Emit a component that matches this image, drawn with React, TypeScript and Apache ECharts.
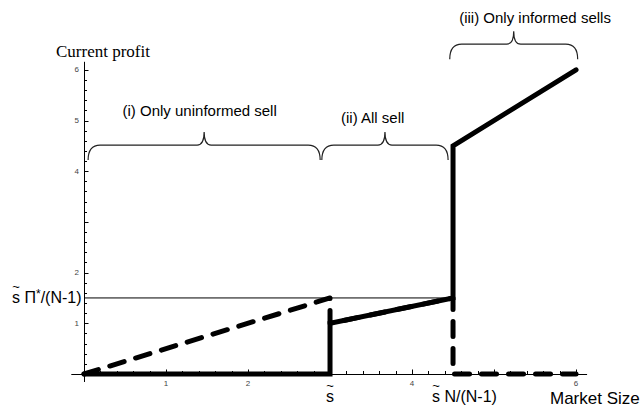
import React, { useEffect, useRef } from "react";
import * as echarts from "echarts";

// ---- data (market size on x, current profit on y) ----
const informedX = [0, 3, 3, 4.5, 4.5, 6];
const informedY = [0, 0, 1, 1.5, 4.5, 6];
const uninformedX = [0, 3, 3, 4.5, 4.5, 6];
const uninformedY = [0, 1.5, 1, 1.5, 0, 0];
const thresholdX = [0, 4.5];
const thresholdY = [1.5, 1.5];

// ---- axis ticks / labels ----
const xTickLabels = [1, 2, 4, 6];
const yTickLabels = [1, 2, 4, 5, 6];
const majorTicks = [1, 2, 3, 4, 5, 6];
const minorTicks = [
  0.2, 0.4, 0.6, 0.8, 1.2, 1.4, 1.6, 1.8, 2.2, 2.4, 2.6, 2.8,
  3.2, 3.4, 3.6, 3.8, 4.2, 4.4, 4.6, 4.8, 5.2, 5.4, 5.6, 5.8,
];

// ---- braces marking the three regions ----
const braceStart = [0.05, 2.9, 4.46];
const braceEnd = [2.88, 4.44, 6.02];
const braceBase = [4.22, 4.22, 6.21];
const braceLabels = ["(i) Only uninformed sell", "(ii) All sell", "(iii) Only informed sells"];
const braceLabelX = [1.41, 3.52, 5.5];
const braceLabelY = [5.19, 5.05, 7.04];

// ---- special axis marks ----
const sTildeX = 3;
const sTildeNX = 4.5;
const sTildePiY = 1.5;

const SANS = "'Liberation Sans', Arial, sans-serif";
const SERIF = "'Liberation Serif', 'Times New Roman', serif";

const zip = (xs: number[], ys: number[]) => xs.map((x, i) => [x, ys[i]]);

export default function App() {
  const ref = useRef<HTMLDivElement>(null);
  useEffect(() => {
    document.body.style.margin = "0";
    if (!ref.current) return;
    const chart = echarts.init(ref.current, undefined, { renderer: "svg" });

    // tick records: [x, y, major (1/0), axis (0 = x, 1 = y), labelled (1/0)]
    const tickData: number[][] = [];
    majorTicks.forEach((v) => tickData.push([v, 0, 1, 0, xTickLabels.indexOf(v) >= 0 ? 1 : 0]));
    minorTicks.forEach((v) => tickData.push([v, 0, 0, 0, 0]));
    majorTicks.forEach((v) => tickData.push([0, v, 1, 1, yTickLabels.indexOf(v) >= 0 ? 1 : 0]));
    minorTicks.forEach((v) => tickData.push([0, v, 0, 1, 0]));

    const option: any = {
      animation: false,
      backgroundColor: "#fff",
      grid: { left: 71.7, right: 56.3, top: 62.2, bottom: 26.4, containLabel: false },
      xAxis: {
        type: "value",
        min: -0.15,
        max: 6.13,
        splitLine: { show: false },
        axisLine: { show: true, onZero: true, lineStyle: { color: "#000", width: 1 } },
        axisTick: { show: false },
        axisLabel: { show: false },
      },
      yAxis: {
        type: "value",
        min: -0.15,
        max: 6.15,
        splitLine: { show: false },
        axisLine: { show: true, onZero: true, lineStyle: { color: "#000", width: 1 } },
        axisTick: { show: false },
        axisLabel: { show: false },
      },
      graphic: [
        {
          type: "text",
          left: 56,
          top: 43,
          style: { text: "Current profit", font: `17px ${SERIF}`, fill: "#000" },
        },
        {
          type: "text",
          left: 550,
          top: 390,
          style: { text: "Market Size", font: `17px ${SANS}`, fill: "#000" },
        },
      ],
      series: [
        {
          type: "custom",
          clip: false,
          data: tickData,
          encode: { x: 0, y: 1 },
          renderItem: (params: any, api: any) => {
            const xv = api.value(0);
            const yv = api.value(1);
            const len = api.value(2) ? 4.5 : 3;
            const ax = api.value(3);
            const lab = api.value(4);
            const p = api.coord([xv, yv]);
            const children: any[] = [];
            if (ax === 0) {
              const x = Math.round(p[0]) + 0.5;
              children.push({ type: "line", shape: { x1: x, y1: p[1], x2: x, y2: p[1] - len }, style: { stroke: "#000", lineWidth: 1 } });
              if (lab) {
                children.push({ type: "text", x: p[0], y: p[1] + 10, style: { text: String(xv), font: `8px ${SANS}`, fill: "#444", align: "center", verticalAlign: "middle" } });
              }
            } else {
              const y = Math.round(p[1]) + 0.5;
              children.push({ type: "line", shape: { x1: p[0], y1: y, x2: p[0] + len, y2: y }, style: { stroke: "#000", lineWidth: 1 } });
              if (lab) {
                children.push({ type: "text", x: p[0] - 5, y: p[1], style: { text: String(yv), font: `8px ${SANS}`, fill: "#444", align: "right", verticalAlign: "middle" } });
              }
            }
            return { type: "group", children };
          },
          z: 6,
        },
        {
          type: "line",
          data: zip(thresholdX, thresholdY),
          symbol: "none",
          lineStyle: { color: "#000", width: 1 },
          z: 2,
        },
        {
          type: "line",
          data: zip(uninformedX, uninformedY),
          symbol: "none",
          lineStyle: { color: "#000", width: 5, type: [15, 12], cap: "round", join: "round" },
          z: 3,
        },
        {
          type: "line",
          data: zip(informedX, informedY),
          symbol: "none",
          lineStyle: { color: "#000", width: 5, cap: "round", join: "miter" },
          z: 4,
        },
        {
          type: "custom",
          clip: false,
          data: braceStart.map((s, i) => [s, braceEnd[i], braceBase[i]]),
          encode: { x: [0, 1], y: 2 },
          renderItem: (params: any, api: any) => {
            const p0 = api.coord([api.value(0), api.value(2)]);
            const p1 = api.coord([api.value(1), api.value(2)]);
            const x0 = p0[0];
            const x1 = p1[0];
            const yb = p0[1];
            const h = 15;
            const peak = 13;
            const rE = 12;
            const rP = 7;
            const yt = yb - h;
            const xm = (x0 + x1) / 2;
            const d =
              `M${x0},${yb} Q${x0},${yt} ${x0 + rE},${yt} L${xm - rP},${yt} ` +
              `Q${xm},${yt} ${xm},${yt - peak} Q${xm},${yt} ${xm + rP},${yt} ` +
              `L${x1 - rE},${yt} Q${x1},${yt} ${x1},${yb}`;
            return {
              type: "path",
              shape: { pathData: d },
              style: { fill: "none", stroke: "#222", lineWidth: 1.2 },
            };
          },
          z: 5,
        },
        {
          type: "custom",
          clip: false,
          data: braceLabels.map((_, i) => [braceLabelX[i], braceLabelY[i], i]),
          encode: { x: 0, y: 1 },
          renderItem: (params: any, api: any) => {
            const p = api.coord([api.value(0), api.value(1)]);
            return {
              type: "text",
              x: p[0],
              y: p[1],
              style: {
                text: braceLabels[params.dataIndex],
                font: `15px ${SANS}`,
                fill: "#000",
                align: "center",
                verticalAlign: "middle",
              },
            };
          },
          z: 5,
        },
        {
          type: "custom",
          clip: false,
          data: [
            [sTildeX, 0, 0],
            [sTildeNX, 0, 1],
            [0, sTildePiY, 2],
          ],
          encode: { x: 0, y: 1 },
          renderItem: (params: any, api: any) => {
            const p = api.coord([api.value(0), api.value(1)]);
            const k = params.dataIndex;
            if (k === 0) {
              return {
                type: "group",
                children: [
                  { type: "text", x: p[0], y: p[1] + 12, style: { text: "~", font: `13px ${SANS}`, fill: "#000", align: "center", verticalAlign: "middle" } },
                  { type: "text", x: p[0], y: p[1] + 23, style: { text: "s", font: `16px ${SANS}`, fill: "#000", align: "center", verticalAlign: "middle" } },
                ],
              };
            }
            if (k === 1) {
              const x = p[0] - 21;
              return {
                type: "group",
                children: [
                  { type: "text", x: x + 4, y: p[1] + 12, style: { text: "~", font: `13px ${SANS}`, fill: "#000", align: "center", verticalAlign: "middle" } },
                  { type: "text", x: x, y: p[1] + 23, style: { text: "s N/(N-1)", font: `16px ${SANS}`, fill: "#000", align: "left", verticalAlign: "middle" } },
                ],
              };
            }
            const x = p[0] - 72;
            return {
              type: "group",
              children: [
                { type: "text", x: x + 4, y: p[1] - 11, style: { text: "~", font: `13px ${SANS}`, fill: "#000", align: "center", verticalAlign: "middle" } },
                {
                  type: "text",
                  x: x,
                  y: p[1],
                  style: {
                    text: "{a|s Π}{b|*}{a|/(N-1)}",
                    fill: "#000",
                    align: "left",
                    verticalAlign: "middle",
                    rich: {
                      a: { font: `16px ${SANS}`, fill: "#000", lineHeight: 20 },
                      b: { font: `12px ${SANS}`, fill: "#000", lineHeight: 20, verticalAlign: "top" },
                    },
                  },
                },
              ],
            };
          },
          z: 5,
        },
      ],
    };

    chart.setOption(option);
    return () => chart.dispose();
  }, []);

  return <div ref={ref} style={{ width: 643, height: 408 }} />;
}
